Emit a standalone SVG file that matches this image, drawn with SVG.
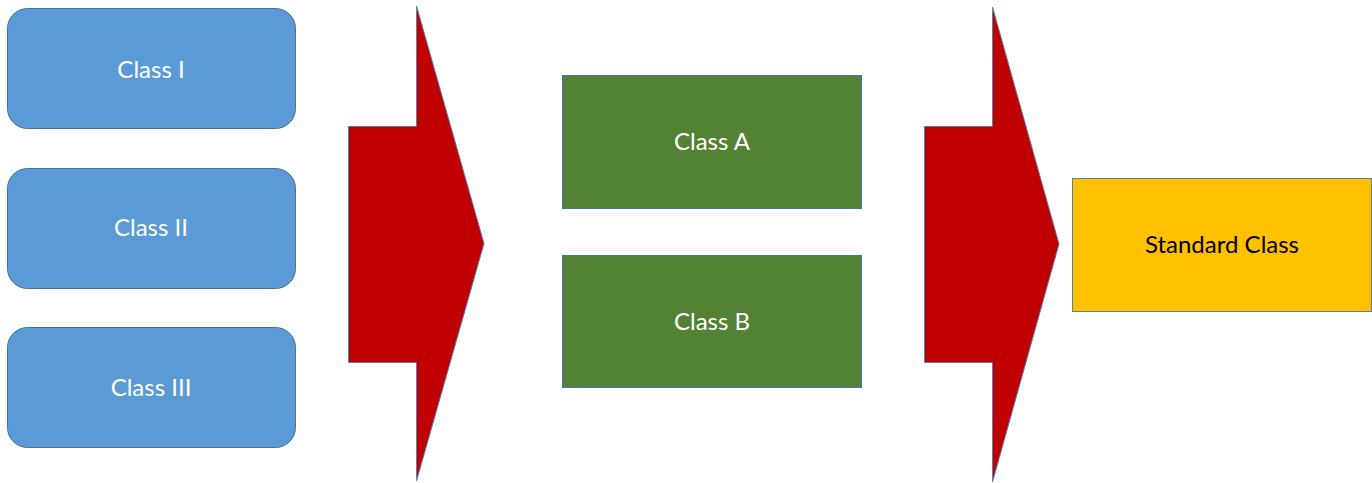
<svg xmlns="http://www.w3.org/2000/svg" width="1372" height="483" viewBox="0 0 1372 483">
  <style>
    .label { font-family: Lato, "Open Sans", "Liberation Sans", sans-serif; font-size: 24px; text-anchor: middle; }
    .light { fill: #ffffff; }
    .dark { fill: #000000; }
    .blue { fill: #5B9BD5; stroke: #41719C; stroke-width: 1; }
    .green { fill: #548235; stroke: #4472C4; stroke-width: 1; }
    .gold { fill: #FFC000; stroke: #5B7FA6; stroke-width: 1; }
    .arrow { fill: #C00000; stroke: #5B7FA6; stroke-width: 1; }
  </style>
  <rect width="1372" height="483" fill="#ffffff"/>

  <g id="class-i">
    <rect class="blue" x="7.5" y="8.5" width="288" height="120" rx="20"/>
    <text class="label light" x="151" y="78">Class I</text>
  </g>
  <g id="class-ii">
    <rect class="blue" x="7.5" y="168.5" width="288" height="120" rx="20"/>
    <text class="label light" x="151" y="236">Class II</text>
  </g>
  <g id="class-iii">
    <rect class="blue" x="7.5" y="327.5" width="288" height="120" rx="20"/>
    <text class="label light" x="151" y="396">Class III</text>
  </g>

  <g id="connectors">
    <polygon class="arrow" points="348.5,126.5 416.5,126.5 416.5,6 484,243.5 416.5,481 416.5,362.5 348.5,362.5"/>
    <polygon class="arrow" points="924.5,126.5 992.5,126.5 992.5,7 1059,244 992.5,482 992.5,362.5 924.5,362.5"/>
  </g>

  <g id="class-a">
    <rect class="green" x="562.5" y="75.5" width="299" height="133"/>
    <text class="label light" x="712" y="150">Class A</text>
  </g>
  <g id="class-b">
    <rect class="green" x="562.5" y="255.5" width="299" height="132"/>
    <text class="label light" x="712" y="330">Class B</text>
  </g>

  <g id="standard-class">
    <rect class="gold" x="1072.5" y="178.5" width="299" height="133"/>
    <text class="label dark" x="1222" y="253">Standard Class</text>
  </g>
</svg>
